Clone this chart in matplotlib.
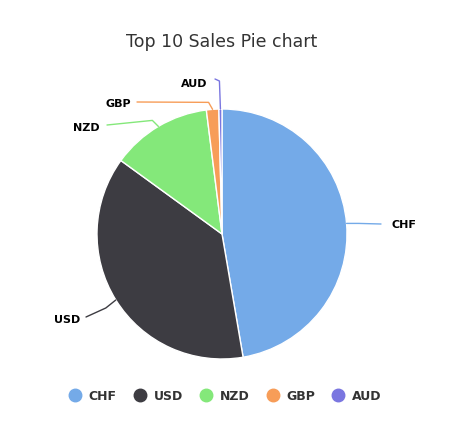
import numpy as np
import matplotlib
matplotlib.use('Agg')
import matplotlib.pyplot as plt
from matplotlib.lines import Line2D

# Sales share per currency (percent)
currencies = ['CHF', 'USD', 'NZD', 'GBP', 'AUD']
sales = [47.3, 37.7, 13.0, 1.6, 0.4]
colors = ['#74aae8', '#3d3c42', '#84e87a', '#f79d58', '#7a76e0']

W, H = 475, 435
fig = plt.figure(figsize=(W / 100, H / 100), dpi=100)
ax = fig.add_axes([0, 0, 1, 1])

cx, cy, r = 222, H - 235, 125
wedges, _ = ax.pie(sales, colors=colors, startangle=90, counterclock=False,
                   center=(cx, cy), radius=r, frame=True,
                   wedgeprops=dict(edgecolor='white', linewidth=1))
ax.set_xlim(0, W)
ax.set_ylim(0, H)
ax.set_aspect('equal')
ax.axis('off')

# label layout: (bend offset from edge point, end of connector, text position, ha)
layout = {
    'CHF': ((12, 0), (381, H - 225), (391, H - 225), 'left'),
    'USD': ((-10, -8), (86, H - 318), (80, H - 320), 'right'),
    'NZD': ((-6, 6), (107, H - 126), (100, H - 128), 'right'),
    'GBP': ((-4, 7), (137, H - 103), (131, H - 104), 'right'),
    'AUD': ((-1, 28), (215, H - 80), (207, H - 84), 'right'),
}

for w, name, col in zip(wedges, currencies, colors):
    mid = np.deg2rad((w.theta1 + w.theta2) / 2)
    ex, ey = cx + r * np.cos(mid), cy + r * np.sin(mid)
    (bx, by), (tx, ty), (lx, ly), ha = layout[name]
    xs = [ex, ex + bx, tx]
    ys = [ey, ey + by, ty]
    ax.plot(xs, ys, color=col, lw=1, solid_capstyle='round', solid_joinstyle='round')
    ax.text(lx, ly, name, ha=ha, va='center', fontsize=8, fontweight='bold', color='black')

ax.text(cx, H - 42, 'Top 10 Sales Pie chart', ha='center', va='center',
        fontsize=12.5, color='#333333')

handles = [Line2D([], [], marker='o', linestyle='', markersize=9,
                  markerfacecolor=c, markeredgecolor=c) for c in colors]
leg = fig.legend(handles, currencies, loc='center', ncol=5,
                 bbox_to_anchor=(cx / W, 1 - 397 / H), frameon=False,
                 handletextpad=0.1, columnspacing=0.85,
                 prop=dict(size=9, weight='bold'))
for t in leg.get_texts():
    t.set_color('#333333')

fig.savefig('out.png', dpi=100)
